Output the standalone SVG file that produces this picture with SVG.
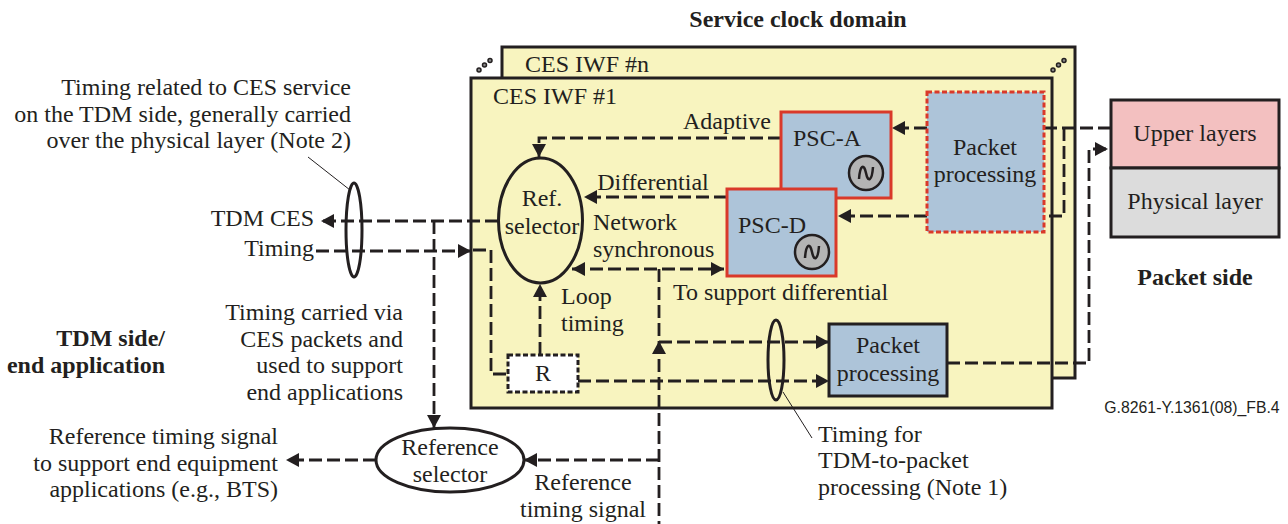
<svg xmlns="http://www.w3.org/2000/svg" width="1288" height="524" viewBox="0 0 1288 524">
<style>
text{font-family:"Liberation Serif","Times New Roman",serif;font-size:24px;fill:#231f20;text-anchor:middle}
.b{font-weight:bold}
.s{text-anchor:start}
.e{text-anchor:end}
.box{stroke:#231f20;stroke-width:3}
.y{fill:#f8f4bf}
.bl{fill:#adc4d9}
.red{stroke:#d9392a;stroke-width:3;fill:#adc4d9}
.el{fill:none;stroke:#231f20;stroke-width:3}
.c{fill:none;stroke:#231f20;stroke-width:2.8;stroke-dasharray:13 5}
.l{fill:none;stroke:#231f20;stroke-width:1}
.a{fill:#231f20}
.osc{fill:#b4b4b4;stroke:#231f20;stroke-width:2.5}
.w{fill:none;stroke:#231f20;stroke-width:2.5}
</style>
<defs>
<marker id="h" markerUnits="userSpaceOnUse" markerWidth="15" markerHeight="15" refX="13" refY="7" orient="auto-start-reverse"><path class="a" d="M0 0L13 7L0 14Z"/></marker>
<g id="dots"><circle cx="0" cy="0" r="2" fill="#888" stroke="#231f20" stroke-width="1.5"/><circle cx="5.500" cy="-5" r="2" fill="#888" stroke="#231f20" stroke-width="1.5"/><circle cx="11" cy="-9.500" r="2" fill="#888" stroke="#231f20" stroke-width="1.5"/></g>
</defs>
<g id="iwf-n"><rect class="box y" x="502" y="47" width="573" height="331"/><text class="s" x="525" y="72">CES IWF #n</text><use href="#dots" x="1053" y="70"/></g>
<use href="#dots" x="479" y="70"/>
<g id="iwf-1"><rect class="box y" x="471" y="78" width="581" height="330"/><text class="s" x="493" y="104">CES IWF #1</text></g>
<g id="connectors">
<path class="c" d="M781 138H539V157" marker-end="url(#h)"/>
<path class="c" d="M727 197H584" marker-end="url(#h)"/>
<path class="c" d="M572 269H724" marker-start="url(#h)" marker-end="url(#h)"/>
<path class="c" d="M659 269V524"/>
<path class="a" d="M652 354L659 341L666 354Z"/>
<path class="c" d="M659 342H829" marker-end="url(#h)"/>
<path class="c" d="M578 381H829" marker-end="url(#h)"/>
<path class="c" d="M927 128H892" marker-end="url(#h)"/>
<path class="c" d="M927 216H838" marker-end="url(#h)"/>
<path class="c" d="M1044 128H1111"/>
<path class="c" d="M1064 128V216H1044"/>
<path class="c" d="M947 363H1089V149H1108" marker-end="url(#h)"/>
<path class="c" d="M498 221H321" marker-end="url(#h)"/>
<path class="c" d="M434 221V428" marker-end="url(#h)"/>
<path class="c" d="M316 251H471" marker-end="url(#h)"/>
<path class="c" d="M473 250H491V374H508"/>
<path class="c" d="M540 355V284" marker-end="url(#h)"/>
<path class="c" d="M376 460H286" marker-end="url(#h)"/>
<path class="c" d="M659 460H524" marker-end="url(#h)"/>
<path class="l" d="M308 157L350 190"/>
<path class="l" d="M783 392L812 438"/>
</g>
<ellipse class="el" cx="354" cy="230" rx="8" ry="47"/>
<ellipse class="el" cx="776" cy="360" rx="8" ry="40"/>
<g id="ref-sel"><ellipse class="el" cx="540.500" cy="220.500" rx="42" ry="62.500"/><text x="542" y="206">Ref.</text><text x="542" y="234">selector</text></g>
<g id="psc-a"><rect class="red" x="781" y="112" width="110" height="86"/><text x="827" y="146">PSC-A</text><circle class="osc" cx="866" cy="173" r="17"/><path class="w" d="M859 179C860 165 864 163 866 173C868 183 872 181 873 167"/></g>
<g id="psc-d"><rect class="red" x="727" y="189" width="109" height="87"/><text x="772" y="233">PSC-D</text><circle class="osc" cx="812" cy="252" r="17"/><path class="w" d="M805 258C806 244 810 242 812 252C814 262 818 260 819 246"/></g>
<g id="pp1"><rect class="bl" x="927" y="92" width="117" height="140"/><rect x="927" y="92" width="117" height="140" fill="none" stroke="#d9392a" stroke-width="3" stroke-dasharray="5 2.500"/><text x="985" y="155">Packet</text><text x="985" y="182">processing</text></g>
<g id="pp2"><rect class="box bl" x="829" y="324" width="118" height="72"/><text x="888" y="353">Packet</text><text x="888" y="381">processing</text></g>
<g id="r"><rect x="508" y="355" width="70" height="37" fill="#fff" stroke="#231f20" stroke-width="3" stroke-dasharray="5 2.500"/><text x="543" y="381">R</text></g>
<g id="upper"><rect class="box" fill="#f3c0c0" x="1111" y="100" width="168" height="68"/><text x="1195" y="141">Upper layers</text></g>
<g id="phys"><rect class="box" fill="#dcdcdc" x="1111" y="168" width="168" height="69"/><text x="1195" y="209">Physical layer</text></g>
<g id="ref-sel-2"><ellipse class="el" fill="none" cx="450" cy="460" rx="74" ry="32"/><text x="450" y="455">Reference</text><text x="450" y="482">selector</text></g>
<text class="b" x="798" y="27">Service clock domain</text>
<text class="b" x="1195" y="285">Packet side</text>
<text class="b e" x="165" y="346">TDM side/</text>
<text class="b e" x="165" y="373">end application</text>
<text class="e" x="351" y="95">Timing related to CES service</text>
<text class="e" x="351" y="122">on the TDM side, generally carried</text>
<text class="e" x="351" y="148">over the physical layer (Note 2)</text>
<text class="e" x="314" y="226">TDM CES</text>
<text class="e" x="314" y="256">Timing</text>
<text class="e" x="403" y="320">Timing carried via</text>
<text class="e" x="403" y="347">CES packets and</text>
<text class="e" x="403" y="373">used to support</text>
<text class="e" x="403" y="400">end applications</text>
<text class="e" x="278" y="444">Reference timing signal</text>
<text class="e" x="278" y="471">to support end equipment</text>
<text class="e" x="278" y="497">applications (e.g., BTS)</text>
<text class="e" x="771" y="129">Adaptive</text>
<text x="653" y="190">Differential</text>
<text class="s" x="593" y="230">Network</text>
<text class="s" x="593" y="257">synchronous</text>
<text class="s" x="673" y="300">To support differential</text>
<text class="s" x="561" y="304">Loop</text>
<text class="s" x="561" y="331">timing</text>
<text x="583" y="490">Reference</text>
<text x="583" y="517">timing signal</text>
<text class="s" x="818" y="442">Timing for</text>
<text class="s" x="818" y="468">TDM-to-packet</text>
<text class="s" x="818" y="495">processing (Note 1)</text>
<text x="1192" y="413" style="font-family:'Liberation Sans',Arial,sans-serif;font-size:15.800px">G.8261-Y.1361(08)_FB.4</text>
</svg>
